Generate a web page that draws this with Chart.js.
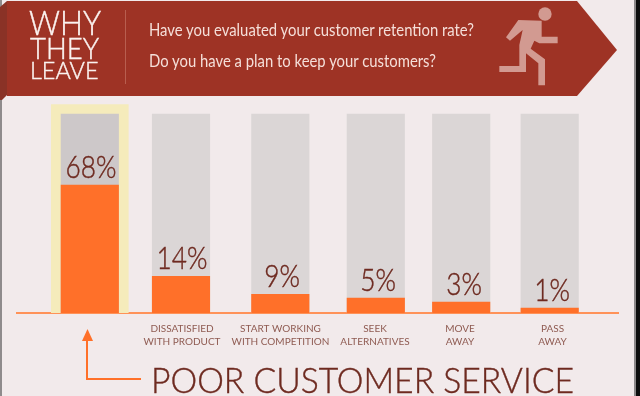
<!DOCTYPE html>
<html><head><meta charset="utf-8">
<script src="https://cdn.jsdelivr.net/npm/chart.js@4/dist/chart.umd.js"></script>
<style>
html,body{margin:0;padding:0;background:#f2eaeb;overflow:hidden}
#wrap{position:relative;width:640px;height:396px}
canvas{position:absolute;left:0;top:0}
svg{position:absolute;left:0;top:0;font-family:Lato,sans-serif}
</style></head><body>
<div id="wrap">
<canvas id="c" width="640" height="396"></canvas>
<svg width="640" height="396" viewBox="0 0 640 396">
  <rect x="0" y="0" width="2" height="396" fill="#8f8b8c"/>
  <rect x="634" y="0" width="2" height="396" fill="#8c8889"/>
  <rect x="636" y="0" width="4" height="396" fill="#0c0c0c"/>
  <polygon points="0,7 7,1 7,95 2,100 0,100" fill="#8a3226"/>
  <polygon points="7,1 577,1 617,50 577,96 7,96" fill="#9e3325"/>
  <line x1="125.5" y1="10" x2="125.5" y2="84" stroke="#b85e4f" stroke-width="1"/>
  <g fill="#fbf3f0" stroke="#fbf3f0" stroke-width="0.4" font-weight="300">
    <text x="29" y="35" font-size="33" textLength="72" lengthAdjust="spacingAndGlyphs">WHY</text>
    <text x="30" y="58.5" font-size="28.5" textLength="69" lengthAdjust="spacingAndGlyphs">THEY</text>
    <text x="30" y="78.5" font-size="23.5" textLength="68.5" lengthAdjust="spacingAndGlyphs">LEAVE</text>
  </g>
  <g fill="#f5dfd9" font-size="17">
    <text x="149" y="36" textLength="325" lengthAdjust="spacingAndGlyphs">Have you evaluated your customer retention rate?</text>
    <text x="149" y="67" textLength="287" lengthAdjust="spacingAndGlyphs">Do you have a plan to keep your customers?</text>
  </g>
  <g transform="translate(490,0) scale(0.3333)" fill="#d29a91">
    <circle cx="165" cy="42" r="20"/>
    <polygon points="85,60 155,62 155,110 203,110 203,130 148,130 133,122 122,146 165,178 165,256 145,256 145,190 108,160 108,216 28,216 28,198 88,198 88,135 98,90 60,122 48,112"/>
  </g>
  <g fill="none" stroke="#ff7029" stroke-width="2">
    <polyline points="87,339 87,379 141,379"/>
  </g>
  <polygon points="87.5,329 93,341 82,341" fill="#ff7029"/>
  <text x="151" y="393" font-size="35" font-weight="300" fill="#6e2a20" stroke="#6e2a20" stroke-width="0.4" textLength="423" lengthAdjust="spacingAndGlyphs">POOR CUSTOMER SERVICE</text>
</svg>
</div>
<script>
// Data
const categories = ["Poor customer service","Dissatisfied with product","Start working with competition","Seek alternatives","Move away","Pass away"];
const percentValues = [68,14,9,5,3,1];
const trackValues = [100,100,100,100,100,100];
const highlightValues = [105,null,null,null,null,null];
const tickLabels = [["DISSATISFIED","WITH PRODUCT"],["START WORKING","WITH COMPETITION"],["SEEK","ALTERNATIVES"],["MOVE","AWAY"],["PASS","AWAY"]];

// Layout of the uneven infographic (horizontal axis units)
const barSlots = [89.8,181,280.3,375.8,461.2,549.7];
const labelSlots = [182,280.5,375,460,552.5];
const percentSlots = [91,182,282,378,464,552];
// The infographic's bars are not to a linear scale: value -> height above baseline (px)
const warpValues = [0,1,3,5,9,14,68,100,105,140];
const warpHeights = [0,5,11,15,18.7,36.7,128,199,208.3,240];

class WarpedScale extends Chart.LinearScale {
  getPixelForValue(v){
    let h = warpHeights[warpHeights.length-1];
    for(let i=1;i<warpValues.length;i++){
      if(v<=warpValues[i]){
        const t=(v-warpValues[i-1])/(warpValues[i]-warpValues[i-1]);
        h=warpHeights[i-1]+t*(warpHeights[i]-warpHeights[i-1]);
        break;
      }
    }
    return this.bottom-h;
  }
}
WarpedScale.id='warped';
WarpedScale.defaults=Chart.LinearScale.defaults;
Chart.register(WarpedScale);

const toPoints = arr => arr.map((y,i)=>({x:barSlots[i],y}));

const percentLabels = {
  id:'percentLabels',
  afterDatasetsDraw(chart){
    const ctx=chart.ctx, meta=chart.getDatasetMeta(0), xs=chart.scales.x;
    ctx.save();
    ctx.font='300 32px Lato, sans-serif';
    ctx.fillStyle='#6e2a20';
    ctx.strokeStyle='#6e2a20';
    ctx.lineWidth=0.45;
    ctx.textAlign='center';
    ctx.textBaseline='alphabetic';
    meta.data.forEach((el,i)=>{
      const t=percentValues[i]+'%';
      const w=ctx.measureText(t).width*0.82;
      const px=xs.getPixelForValue(percentSlots[i]);
      ctx.fillText(t,px,el.y-7.5,w);
      ctx.strokeText(t,px,el.y-7.5,w);
    });
    ctx.restore();
  }
};

new Chart(document.getElementById('c'),{
  type:'bar',
  data:{
    labels:categories,
    datasets:[
      {label:'Share leaving',data:toPoints(percentValues),backgroundColor:'#ff7029',barThickness:57.5,order:1},
      {label:'Track',data:toPoints(trackValues),backgroundColor:['#cdc8c9','#dbd6d6','#dbd6d6','#dbd6d6','#dbd6d6','#dbd6d6'],barThickness:57.5,order:2},
      {label:'Highlight',data:toPoints(highlightValues),backgroundColor:'#f5ebbb',barThickness:77,order:3}
    ]
  },
  plugins:[percentLabels],
  options:{
    responsive:false,
    animation:false,
    events:[],
    layout:{padding:{left:17,right:22,top:0,bottom:0}},
    datasets:{bar:{grouped:false}},
    plugins:{legend:{display:false},tooltip:{enabled:false},title:{display:false}},
    scales:{
      x:{
        type:'linear',min:17,max:618,offset:false,
        afterBuildTicks(s){s.ticks=labelSlots.map(value=>({value}));},
        afterFit(s){s.height=83;},
        grid:{display:false,drawTicks:false,offset:false},
        border:{display:true,color:'#ff9258',width:2},
        ticks:{
          autoSkip:false,maxRotation:0,minRotation:0,padding:9,
          color:'#8f5b52',
          font:{family:'Lato, sans-serif',size:10,lineHeight:1.3},
          callback:(v,i)=>tickLabels[i]
        }
      },
      y:{type:'warped',min:0,max:140,display:false,grid:{display:false}}
    }
  }
});
</script>
</body></html>
